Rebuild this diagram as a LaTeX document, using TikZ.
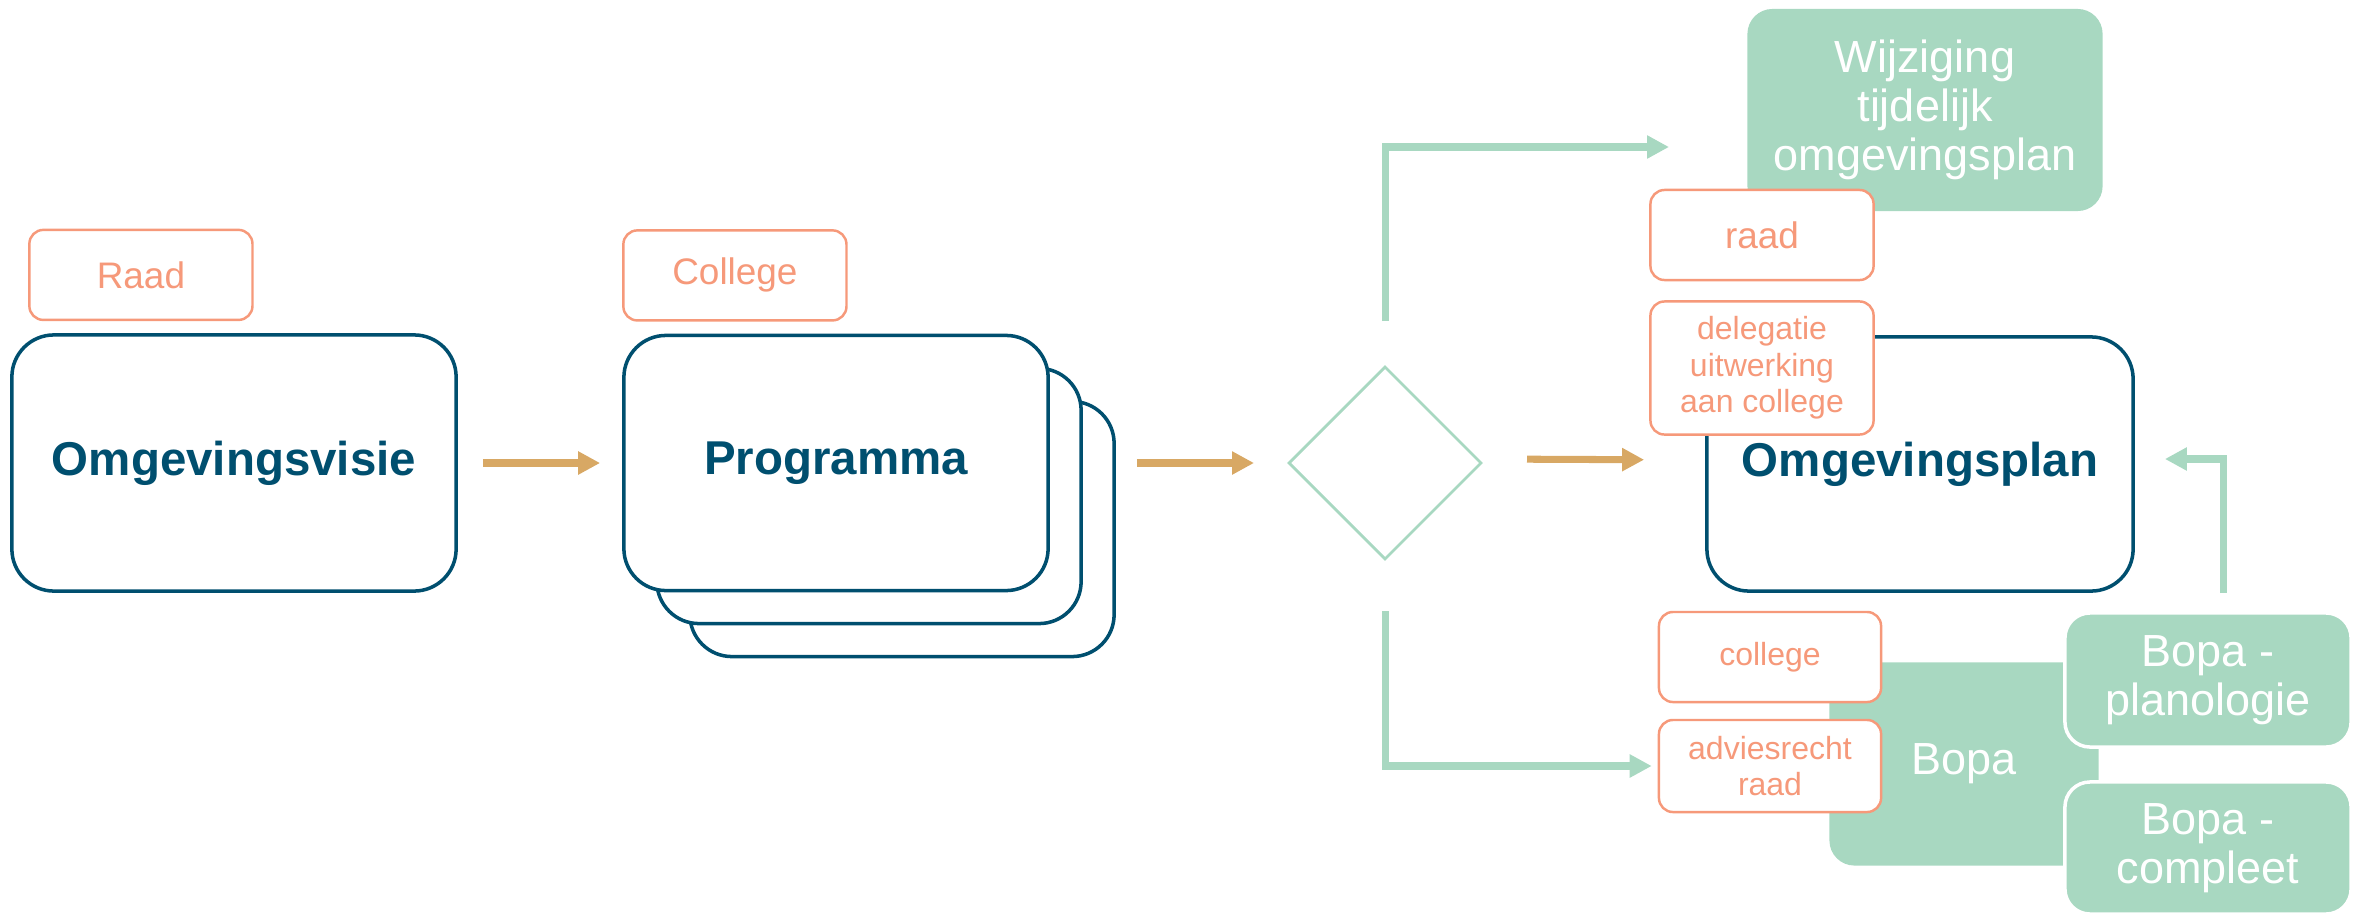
\documentclass[tikz,border=0pt]{standalone}
\usepackage{fontspec}
\setmainfont{Liberation Sans}
\usetikzlibrary{positioning,shapes.geometric,arrows.meta}

\definecolor{petrol}{RGB}{0,79,111}
\definecolor{zalm}{RGB}{246,153,122}
\definecolor{mint}{RGB}{168,216,193}
\definecolor{oker}{RGB}{216,168,100}

\begin{document}
\begin{tikzpicture}[
        x=0.01cm, y=-0.01cm,
        docbox/.style={rectangle, rounded corners=0.42cm, draw=petrol, line width=1pt, fill=white, text=petrol, align=center, minimum width=4.24cm, minimum height=2.55cm, font=\fontsize{13.5}{16}\selectfont\bfseries},
        rolbox/.style={rectangle, rounded corners=0.14cm, draw=zalm, line width=0.7pt, fill=white, text=zalm, align=center, minimum width=2.23cm, minimum height=0.9cm, inner sep=2pt, font=\fontsize{10.5}{12}\selectfont},
        smalltext/.style={font=\fontsize{9.1}{10.4}\selectfont},
        mintbox/.style={rectangle, rounded corners=0.25cm, fill=mint, text=white, align=center, font=\fontsize{12.8}{14}\selectfont},
        flow/.style={draw=oker, line width=2pt, -{Triangle[length=0.22cm, width=0.22cm]}},
        route/.style={draw=mint, line width=2pt, -{Triangle[length=0.22cm, width=0.22cm]}}
    ]
        \useasboundingbox (0,0) rectangle (2358,915);

        \node (visie) [docbox, minimum width=4.44cm, minimum height=2.56cm] at (234,463) {Omgevingsvisie};
        \node (raad) [rolbox, above right=0.12cm and 0.18cm of visie.north west] {Raad};

        \node (prog3) [docbox] at (902,529) {};
        \node (prog2) [docbox] at (869,496) {};
        \node (prog) [docbox] at (836,463) {Programma};
        \node (college) [rolbox, above right=0.12cm and 0cm of prog.north west] {College};

        \node (keuze) [diamond, draw=mint, line width=0.8pt, minimum width=1.93cm, minimum height=1.93cm, inner sep=0pt] at (1385,463) {};

        \node (wijz) [mintbox, minimum width=3.55cm, minimum height=2.02cm] at (1925,110) {Wijziging\\tijdelijk\\omgevingsplan};
        \node (raad2) [rolbox] at (1762,235) {raad};
        \node (plan) [docbox, minimum width=4.26cm, minimum height=2.54cm] at (1920,464) {Omgevingsplan};
        \node (deleg) [rolbox, smalltext, minimum height=1.33cm] at (1762,368) {delegatie\\uitwerking\\aan college};

        \node (bopa) [mintbox, minimum width=2.69cm, minimum height=2.03cm] at (1964,764) {Bopa};
        \node (coll2) [rolbox, smalltext, minimum width=2.22cm] at (1770,657) {college};
        \node (advies) [rolbox, smalltext, minimum width=2.22cm, minimum height=0.92cm] at (1770,766) {adviesrecht\\raad};
        \node (plano) [mintbox, draw=white, line width=1pt, minimum width=2.86cm, minimum height=1.34cm] at (2208,680) {Bopa -\\planologie};
        \node (compl) [mintbox, draw=white, line width=1pt, minimum width=2.86cm, minimum height=1.32cm] at (2208,848) {Bopa -\\compleet};

        \coordinate (wijzin) at (1669,147);

        \draw[flow, shorten <=0.25cm, shorten >=0.22cm] (visie) -- (prog);
        \draw[flow, shorten <=0.21cm, shorten >=0.33cm] (prog.east -| prog3.east) -- (keuze);
        \draw[flow, shorten <=0.44cm, shorten >=0.61cm] ([yshift=0.04cm]keuze.east) -- ([yshift=0.04cm]plan.west);
        \draw[route] ([yshift=0.44cm]keuze.north) |- (wijzin);
        \draw[route, shorten >=0.06cm] ([yshift=-0.5cm]keuze.south) |- (advies.west);
        \draw[route, shorten >=0.3cm] ([xshift=0.15cm, yshift=0.18cm]plano.north) |- ([yshift=0.05cm]plan.east);
    \end{tikzpicture}
\end{document}
